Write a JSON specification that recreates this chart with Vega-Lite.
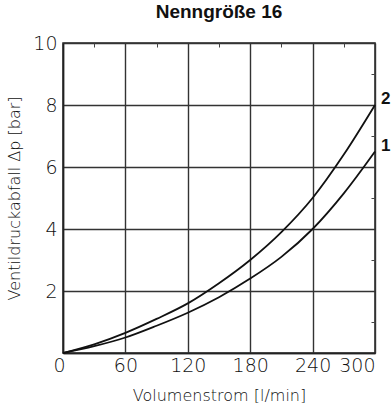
{
  "$schema": "https://vega.github.io/schema/vega-lite/v6.json",
  "autosize": "none",
  "width": 312,
  "height": 310,
  "padding": {"left": 63, "top": 43, "right": 16, "bottom": 54},
  "background": "white",
  "title": {"text": "Nenngröße 16", "font": "Liberation Sans", "fontSize": 19, "fontWeight": "bold", "color": "#111", "offset": 12, "anchor": "middle"},
  "config": {
    "view": {"stroke": "#222", "strokeWidth": 1.5},
    "axis": {"labelFont": "DejaVu Sans", "labelFontWeight": 200, "titleFont": "DejaVu Sans", "titleFontWeight": 200, "labelColor": "#111", "titleColor": "#111", "gridColor": "#333", "gridWidth": 1.4, "gridOpacity": 1, "domainColor": "#222", "domainWidth": 1.5, "ticks": false}
  },
  "datasets": {
    "curves": [
      {"q": 0, "dp": 0, "k": "2"}, {"q": 30, "dp": 0.28, "k": "2"}, {"q": 60, "dp": 0.65, "k": "2"}, {"q": 90, "dp": 1.1, "k": "2"}, {"q": 120, "dp": 1.6, "k": "2"}, {"q": 150, "dp": 2.25, "k": "2"}, {"q": 180, "dp": 3.0, "k": "2"}, {"q": 210, "dp": 3.9, "k": "2"}, {"q": 240, "dp": 5.0, "k": "2"}, {"q": 270, "dp": 6.4, "k": "2"}, {"q": 300, "dp": 8.0, "k": "2"},
      {"q": 0, "dp": 0, "k": "1"}, {"q": 30, "dp": 0.22, "k": "1"}, {"q": 60, "dp": 0.5, "k": "1"}, {"q": 90, "dp": 0.88, "k": "1"}, {"q": 120, "dp": 1.3, "k": "1"}, {"q": 150, "dp": 1.8, "k": "1"}, {"q": 180, "dp": 2.4, "k": "1"}, {"q": 210, "dp": 3.1, "k": "1"}, {"q": 240, "dp": 4.0, "k": "1"}, {"q": 270, "dp": 5.15, "k": "1"}, {"q": 300, "dp": 6.5, "k": "1"}
    ],
    "ends": [{"q": 300, "dp": 8.0, "k": "2"}, {"q": 300, "dp": 6.5, "k": "1"}]
  },
  "layer": [
    {
      "data": {"name": "curves"},
      "mark": {"type": "line", "color": "#111", "strokeWidth": 1.8, "interpolate": "monotone", "clip": false},
      "encoding": {
        "x": {"field": "q", "type": "quantitative", "scale": {"domain": [0, 300], "nice": false}, "axis": {"values": [0, 60, 120, 180, 240, 300], "title": "Volumenstrom [l/min]", "labelFontSize": 19, "titleFontSize": 16, "labelPadding": 3, "titlePadding": 12, "labelOffset": {"condition": {"test": "datum.value === 0", "value": -10}, "value": 0}, "labelBound": false}},
        "y": {"field": "dp", "type": "quantitative", "scale": {"domain": [0, 10], "nice": false}, "axis": {"values": [0, 2, 4, 6, 8, 10], "labelExpr": "datum.value === 0 ? '' : datum.label", "title": "Ventildruckabfall Δp [bar]", "labelFontSize": 19, "titleFontSize": 16, "labelPadding": 6, "titlePadding": 10}},
        "detail": {"field": "k"}
      }
    },
    {
      "data": {"name": "ends"},
      "mark": {"type": "text", "font": "Liberation Sans", "fontWeight": "bold", "fontSize": 17, "align": "left", "dx": 6, "dy": -6, "color": "#111"},
      "encoding": {
        "x": {"field": "q", "type": "quantitative", "axis": {"orient": "top", "values": [30, 90, 150, 210, 270], "labels": false, "title": null, "grid": false, "domain": false, "ticks": true, "tickSize": -4, "tickColor": "#444", "tickWidth": 1}},
        "y": {"field": "dp", "type": "quantitative", "axis": {"orient": "right", "values": [1, 3, 5, 7, 9], "labels": false, "title": null, "grid": false, "domain": false, "ticks": true, "tickSize": -4, "tickColor": "#444", "tickWidth": 1}},
        "text": {"field": "k"}
      }
    }
  ],
  "resolve": {"axis": {"x": "independent", "y": "independent"}}
}
